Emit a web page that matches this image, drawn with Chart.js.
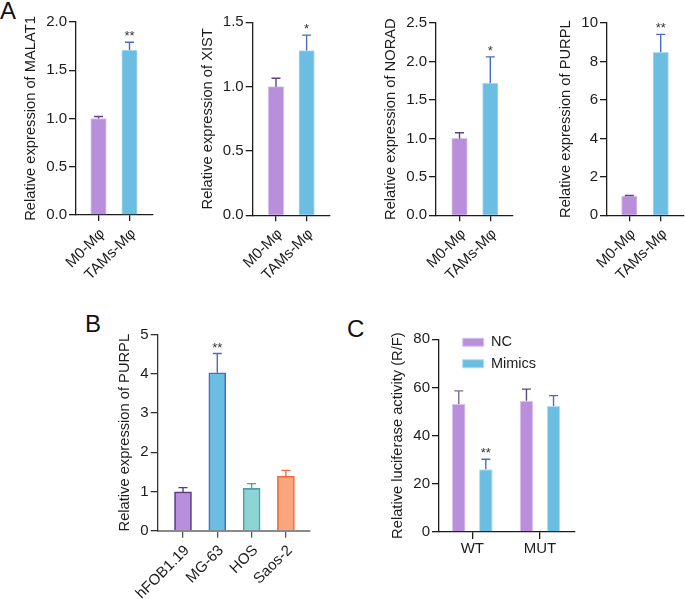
<!DOCTYPE html>
<html>
<head>
<meta charset="utf-8">
<script src="https://cdn.jsdelivr.net/npm/chart.js@4.4.0/dist/chart.umd.min.js"></script>
<style>
  html, body { margin: 0; padding: 0; background: #fff; }
  body { width: 685px; height: 599px; position: relative; overflow: hidden; font-family: "Liberation Sans", Arial, sans-serif; }
  canvas { position: absolute; }
  .tag { position: absolute; font-size: 24px; line-height: 1; color: #111; }
</style>
</head>
<body>
<div class="tag" style="left:0px;top:-1px">A</div>
<div class="tag" style="left:85px;top:312px">B</div>
<div class="tag" style="left:347px;top:317px">C</div>
<canvas id="a1"></canvas>
<canvas id="a2"></canvas>
<canvas id="a3"></canvas>
<canvas id="a4"></canvas>
<canvas id="b"></canvas>
<canvas id="c"></canvas>
<script>
// data
const macroGroups = ['M0-Mφ', 'TAMs-Mφ'];
const malat1 = [1.0, 1.71];
const malat1Err = [0.02, 0.08];
const malat1Stars = ['', '**'];
const xist = [1.0, 1.28];
const xistErr = [0.065, 0.12];
const xistStars = ['', '*'];
const norad = [1.0, 1.72];
const noradErr = [0.074, 0.34];
const noradStars = ['', '*'];
const purpl = [1.0, 8.48];
const purplErr = [0.03, 0.93];
const purplStars = ['', '**'];

const cellLines = ['hFOB1.19', 'MG-63', 'HOS', 'Saos-2'];
const purplCells = [0.99, 4.03, 1.08, 1.39];
const purplCellsErr = [0.11, 0.49, 0.12, 0.15];
const purplCellsStars = ['', '**', '', ''];

const reporterGroups = ['WT', 'MUT'];
const ncValues = [53.1, 54.5];
const ncErr = [5.5, 4.8];
const mimicsValues = [26.0, 52.3];
const mimicsErr = [4.2, 4.3];
const mimicsStars = ['**', ''];

// colours
const PURPLE = '#b98fdc', PURPLE_EDGE = '#d8c2f0', PURPLE_ERR = '#5e4387';
const BLUE = '#6bbde1', BLUE_EDGE = '#b0def2', BLUE_ERR = '#4a6cc4';
const INK = '#1c1c1c';
const TICK_SIZE = 15, TITLE_SIZE = 14.7;

Chart.defaults.font.family = '"Liberation Sans", Arial, sans-serif';
Chart.defaults.color = INK;
Chart.defaults.animation = false;

// error bars + significance stars
const errorBarPlugin = {
  id: 'errorBars',
  afterDatasetsDraw(chart) {
    const ctx = chart.ctx;
    const y = chart.scales.y;
    chart.data.datasets.forEach((ds, di) => {
      const meta = chart.getDatasetMeta(di);
      meta.data.forEach((bar, i) => {
        const v = ds.data[i].y;
        const top = y.getPixelForValue(v + ds.errors[i]);
        const col = Array.isArray(ds.errColor) ? ds.errColor[i] : ds.errColor;
        ctx.save();
        ctx.strokeStyle = col;
        ctx.lineWidth = 1.4;
        ctx.beginPath();
        ctx.moveTo(bar.x, bar.y);
        ctx.lineTo(bar.x, top);
        ctx.moveTo(bar.x - 4.5, top);
        ctx.lineTo(bar.x + 4.5, top);
        ctx.stroke();
        const star = ds.stars ? ds.stars[i] : '';
        if (star) {
          ctx.fillStyle = '#333';
          ctx.font = '13px "Liberation Sans", Arial, sans-serif';
          ctx.textAlign = 'center';
          ctx.textBaseline = 'alphabetic';
          ctx.fillText(star, bar.x, top - 2);
        }
        ctx.restore();
      });
    });
  }
};

function makePanel(id, box, plot, o) {
  const cv = document.getElementById(id);
  cv.width = box.w;
  cv.height = box.h;
  cv.style.left = box.x + 'px';
  cv.style.top = box.y + 'px';
  const xMin = -(o.c0 - plot.l) / o.step;
  const xMax = xMin + (plot.r - plot.l) / o.step;
  const plugins = [errorBarPlugin];
  if (o.legendShift) {
    plugins.push({
      id: 'legendShift',
      afterLayout(chart) {
        const lg = chart.legend;
        lg.left = o.legendShift.x - box.x;
        lg.right = lg.left + 160;
        lg.top = o.legendShift.y - box.y;
        lg.bottom = lg.top + 120;
      }
    });
  }
  return new Chart(cv, {
    type: 'bar',
    data: { datasets: o.datasets },
    plugins: plugins,
    options: {
      responsive: false,
      animation: false,
      layout: { padding: { left: 0, top: plot.t - box.y, right: box.x + box.w - plot.r, bottom: 0 } },
      plugins: {
        legend: o.legend || { display: false },
        tooltip: { enabled: false }
      },
      datasets: { bar: o.barOpts || {} },
      scales: {
        x: {
          type: 'linear',
          min: xMin,
          max: xMax,
          offset: false,
          afterBuildTicks: s => { s.ticks = o.labels.map((_, i) => ({ value: i })); },
          afterFit: s => { s.height = box.y + box.h - plot.b; },
          ticks: {
            autoSkip: false,
            minRotation: o.rot,
            maxRotation: o.rot,
            padding: o.xPad,
            labelOffset: o.xShift || 0,
            font: { size: TICK_SIZE },
            color: INK,
            callback: (v, i) => o.labels[i]
          },
          grid: {
            display: true, offset: false, drawOnChartArea: false, drawTicks: true,
            tickLength: o.xTick || 6, color: o.xTickColor || INK, lineWidth: 1.3
          },
          border: { display: true, color: o.xAxisColor || INK, width: o.xAxisWidth || 1.3 }
        },
        y: {
          min: 0,
          max: o.yMax,
          afterFit: s => { s.width = plot.l - box.x; },
          ticks: {
            stepSize: o.yStep,
            padding: 2,
            font: { size: TICK_SIZE },
            color: INK,
            callback: o.yFmt || (v => v)
          },
          grid: {
            display: true, drawOnChartArea: false, drawTicks: true,
            tickLength: 7, color: o.yAxisColor || INK, lineWidth: 1.3
          },
          border: { display: true, color: o.yAxisColor || INK, width: 1.3 },
          title: {
            display: true,
            text: o.yTitle,
            font: { size: TITLE_SIZE },
            color: INK,
            padding: { top: o.titleX - box.x - TITLE_SIZE * 0.6, bottom: 0 }
          }
        }
      }
    }
  });
}

const pts = arr => arr.map((v, i) => ({ x: i, y: v }));
const oneDec = v => Number(v).toFixed(1);

function macroDataset(vals, errs, stars) {
  return [{
    data: pts(vals),
    errors: errs,
    stars: stars,
    backgroundColor: [PURPLE, BLUE],
    borderColor: [PURPLE_EDGE, BLUE_EDGE],
    borderWidth: 1,
    errColor: [PURPLE_ERR, BLUE_ERR],
    barThickness: 15.5
  }];
}

makePanel('a1', { x: 0, y: 0, w: 165, h: 300 }, { l: 76, t: 22, r: 153, b: 215 }, {
  c0: 98.5, step: 31, labels: macroGroups, rot: 45, xPad: 4, xShift: 4,
  yMax: 2, yStep: 0.5, yFmt: oneDec, yTitle: 'Relative expression of MALAT1', titleX: 31,
  datasets: macroDataset(malat1, malat1Err, malat1Stars)
});
makePanel('a2', { x: 165, y: 0, w: 170, h: 300 }, { l: 252.7, t: 22.3, r: 330, b: 215.3 }, {
  c0: 276, step: 30.6, labels: macroGroups, rot: 45, xPad: 4, xShift: 4,
  yMax: 1.5, yStep: 0.5, yFmt: oneDec, yTitle: 'Relative expression of XIST', titleX: 207.5,
  datasets: macroDataset(xist, xistErr, xistStars)
});
makePanel('a3', { x: 335, y: 0, w: 185, h: 300 }, { l: 436, t: 23, r: 513, b: 215.3 }, {
  c0: 459.5, step: 30.8, labels: macroGroups, rot: 45, xPad: 4, xShift: 4,
  yMax: 2.5, yStep: 0.5, yFmt: oneDec, yTitle: 'Relative expression of NORAD', titleX: 390.7,
  datasets: macroDataset(norad, noradErr, noradStars)
});
makePanel('a4', { x: 520, y: 0, w: 165, h: 300 }, { l: 607, t: 23, r: 684, b: 215.3 }, {
  c0: 629.3, step: 31.4, labels: macroGroups, rot: 45, xPad: 4, xShift: 4,
  yMax: 10, yStep: 2, yTitle: 'Relative expression of PURPL', titleX: 565.7,
  datasets: macroDataset(purpl, purplErr, purplStars)
});

makePanel('b', { x: 80, y: 305, w: 235, h: 294 }, { l: 157.7, t: 334.7, r: 310, b: 530.7 }, {
  c0: 183, step: 34.3, labels: cellLines, rot: 45, xPad: 4, xShift: 4, xTick: 7,
  xTickColor: '#555', xAxisColor: '#8a8a8a', xAxisWidth: 2, yAxisColor: '#333',
  yMax: 5, yStep: 1, yTitle: 'Relative expression of PURPL', titleX: 125,
  datasets: [{
    data: pts(purplCells),
    errors: purplCellsErr,
    stars: purplCellsStars,
    backgroundColor: [PURPLE, BLUE, '#8dd4d7', '#f9a67e'],
    borderColor: ['#5a3a86', '#4a6cc4', '#4f9ea3', '#f06a3a'],
    errColor: ['#5a3a86', '#4a6cc4', '#4f9ea3', '#f06a3a'],
    borderWidth: 1.6,
    barThickness: 17
  }]
});

makePanel('c', { x: 330, y: 305, w: 260, h: 294 }, { l: 439, t: 339.3, r: 575, b: 532 }, {
  c0: 472.3, step: 67.7, labels: reporterGroups, rot: 0, xPad: 1, xTick: 7,
  yMax: 80, yStep: 20, yTitle: 'Relative luciferase activity (R/F)', titleX: 398,
  barOpts: { categoryPercentage: 0.8, barPercentage: 0.5 },
  legend: {
    display: true, position: 'chartArea', align: 'start',
    labels: { boxWidth: 21, boxHeight: 8, padding: 7, font: { size: 14.5 }, color: INK }
  },
  legendShift: { x: 455.7, y: 328 },
  datasets: [
    { label: 'NC', data: pts(ncValues), errors: ncErr, backgroundColor: PURPLE,
      borderColor: PURPLE_EDGE, borderWidth: 1, errColor: ['#7d6894', PURPLE_ERR] },
    { label: 'Mimics', data: pts(mimicsValues), errors: mimicsErr, stars: mimicsStars,
      backgroundColor: BLUE, borderColor: BLUE_EDGE, borderWidth: 1, errColor: BLUE_ERR }
  ]
});
</script>
</body>
</html>
